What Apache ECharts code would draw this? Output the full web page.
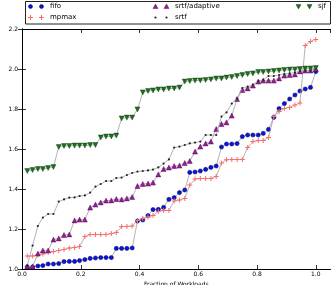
<!DOCTYPE html>
<html><head><meta charset="utf-8">
<script src="https://cdn.jsdelivr.net/npm/echarts@6/dist/echarts.min.js"></script>
<style>html,body{margin:0;padding:0;background:#fff}#c{width:332px;height:285px}</style>
</head><body><div id="c"></div>
<script>
// Fraction of workloads (x positions, i/56)
var fractions = [0.018,0.036,0.054,0.071,0.089,0.107,0.125,0.143,0.161,0.179,0.196,0.214,0.232,0.25,0.268,0.286,0.304,0.321,0.339,0.357,0.375,0.393,0.411,0.429,0.446,0.464,0.482,0.5,0.518,0.536,0.554,0.571,0.589,0.607,0.625,0.643,0.661,0.679,0.696,0.714,0.732,0.75,0.768,0.786,0.804,0.821,0.839,0.857,0.875,0.893,0.911,0.929,0.946,0.964,0.982,1.0];
var fifo = [1.01,1.01,1.015,1.017,1.025,1.025,1.027,1.037,1.038,1.038,1.042,1.047,1.053,1.055,1.057,1.057,1.057,1.103,1.103,1.103,
  1.105,1.24,1.245,1.267,1.297,1.298,1.308,1.348,1.357,1.382,1.395,1.483,1.485,1.49,1.498,1.508,1.515,1.61,1.625,
  1.625,1.627,1.662,1.67,1.67,1.67,1.678,1.698,1.758,1.802,1.827,1.85,1.87,1.89,1.9,1.908,1.987];
var mpmax = [1.065,1.065,1.07,1.075,1.082,1.087,1.093,1.098,1.105,1.107,1.112,1.162,1.172,1.172,1.172,1.172,1.177,1.182,1.212,1.213,
  1.215,1.242,1.253,1.26,1.268,1.288,1.293,1.293,1.34,1.345,1.353,1.42,1.45,1.452,1.452,1.452,1.463,1.53,1.546,
  1.547,1.548,1.548,1.608,1.637,1.642,1.643,1.657,1.762,1.787,1.803,1.808,1.82,1.83,2.117,2.137,2.148];
var srtfAdaptive = [1.013,1.013,1.077,1.093,1.093,1.147,1.153,1.17,1.173,1.243,1.247,1.247,1.307,1.322,1.333,1.342,1.343,1.35,1.348,1.353,
  1.36,1.415,1.425,1.427,1.432,1.473,1.5,1.507,1.515,1.517,1.53,1.54,1.587,1.612,1.628,1.637,1.70,1.725,1.733,
  1.767,1.85,1.895,1.903,1.917,1.937,1.942,1.942,1.942,1.953,1.967,1.97,1.973,1.988,1.992,1.992,2.0];
var srtf = [1.018,1.117,1.215,1.257,1.275,1.275,1.337,1.348,1.357,1.358,1.365,1.368,1.382,1.412,1.425,1.44,1.44,1.455,1.457,1.47,
  1.48,1.487,1.49,1.493,1.497,1.508,1.527,1.548,1.607,1.612,1.62,1.628,1.632,1.637,1.67,1.67,1.67,1.762,1.783,
  1.827,1.853,1.905,1.912,1.92,1.94,1.945,1.965,1.965,1.97,1.975,1.978,1.982,1.99,1.993,1.993,2.008];
var sjf = [1.49,1.495,1.50,1.50,1.505,1.51,1.61,1.615,1.615,1.617,1.617,1.617,1.62,1.62,1.658,1.662,1.663,1.667,1.753,1.757,
  1.757,1.798,1.883,1.89,1.893,1.898,1.898,1.902,1.903,1.907,1.937,1.94,1.942,1.943,1.945,1.948,1.952,1.953,1.957,
  1.96,1.965,1.97,1.975,1.978,1.985,1.985,1.987,1.99,1.992,1.995,1.997,1.998,2.0,2.002,2.003,2.005];
var seriesNames = ['fifo','mpmax','srtf/adaptive','srtf','sjf'];
var xTicks = [0.0,0.2,0.4,0.6,0.8,1.0];
var yTicks = [1.0,1.2,1.4,1.6,1.8,2.0,2.2];

var FONT = 'DejaVu Sans';
var PLUS = 'path://M4,0L6,0L6,4L10,4L10,6L6,6L6,10L4,10L4,6L0,6L0,4L4,4Z';
var styles = [
  {symbol:'circle', size:4.2, color:'#0a14e0', border:'#000050', bw:0.5, rot:0},
  {symbol:PLUS, size:5, color:'#ff6b6b', border:'#ff6b6b', bw:0, rot:0},
  {symbol:'triangle', size:5, color:'#9a1a9a', border:'#3a003a', bw:0.4, rot:0},
  {symbol:'circle', size:2.2, color:'#222222', border:'#222222', bw:0, rot:0},
  {symbol:'triangle', size:5, color:'#1d6e1d', border:'#083808', bw:0.4, rot:180}
];
var values = [fifo, mpmax, srtfAdaptive, srtf, sjf];

function pairs(v){ return fractions.map(function(x,i){return [x, v[i]];}); }

var series = values.map(function(v,k){
  var s = styles[k];
  return {
    name: seriesNames[k], type:'line', data: pairs(v),
    symbol: s.symbol, symbolSize: s.size, symbolRotate: s.rot, showAllSymbol: true,
    lineStyle:{color:'#a0a0a0', width:0.8},
    itemStyle:{color:s.color, borderColor:s.border, borderWidth:s.bw, opacity:1},
    emphasis:{disabled:true}, animation:false, z: 2+k
  };
});

function fmt(v){
  for (var i=0;i<xTicks.length;i++) if (Math.abs(v-xTicks[i])<1e-6) return xTicks[i].toFixed(1);
  return '';
}
function fmtY(v){
  for (var i=0;i<yTicks.length;i++) if (Math.abs(v-yTicks[i])<1e-6) return yTicks[i].toFixed(1);
  return '';
}
var tickStyle = {inside:true, length:4, lineStyle:{color:'#000', width:0.8}};
var lineSt = {show:true, lineStyle:{color:'#000', width:1}};

// legend built as graphic elements
var legendCols = [[0,1],[2,3],[4]];
var colX = [30.5, 155.5, 298.5];
var rowY = [6.5, 17.5];
var g = [{type:'rect', shape:{x:25.5,y:1.5,width:305,height:22.5}, style:{fill:'#fff', stroke:'#222', lineWidth:1}, z:100}];
function markerEl(k, cx, cy){
  var s = styles[k];
  if (k===0) return {type:'circle', shape:{cx:cx,cy:cy,r:2}, style:{fill:s.color, stroke:s.border, lineWidth:0.5}, z:101};
  if (k===1) return {type:'group', z:101, children:[
      {type:'line', shape:{x1:cx-2.5,y1:cy,x2:cx+2.5,y2:cy}, style:{stroke:s.color, lineWidth:1}, z:101},
      {type:'line', shape:{x1:cx,y1:cy-2.5,x2:cx,y2:cy+2.5}, style:{stroke:s.color, lineWidth:1}, z:101}]};
  if (k===2) return {type:'polygon', shape:{points:[[cx,cy-2.5],[cx+2.5,cy+2],[cx-2.5,cy+2]]}, style:{fill:s.color, stroke:s.border, lineWidth:0.4}, z:101};
  if (k===3) return {type:'circle', shape:{cx:cx,cy:cy,r:1.1}, style:{fill:s.color}, z:101};
  return {type:'polygon', shape:{points:[[cx,cy+2.5],[cx+2.5,cy-2],[cx-2.5,cy-2]]}, style:{fill:s.color, stroke:s.border, lineWidth:0.4}, z:101};
}
legendCols.forEach(function(col,c){
  col.forEach(function(k,r){
    var x = colX[c], y = rowY[r];
    g.push(markerEl(k, x, y));
    g.push(markerEl(k, x+11, y));
    g.push({type:'text', x:x+19.5, y:y, style:{text:seriesNames[k], fill:'#000', font:'7px "'+FONT+'"', verticalAlign:'middle', align:'left'}, z:101});
  });
});

var chart = echarts.init(document.getElementById('c'), null, {renderer:'canvas'});
chart.setOption({
  animation:false,
  backgroundColor:'#fff',
  grid:{left:22, right:1.5, top:29, bottom:16, containLabel:false, outerBoundsMode:'none'},
  xAxis:[
    {type:'value', min:0, max:1.05, interval:0.2, position:'bottom',
     axisLine:lineSt, axisTick:tickStyle, splitLine:{show:false},
     axisLabel:{formatter:fmt, fontSize:6, color:'#000', fontFamily:FONT, margin:2, showMaxLabel:false},
     name:'Fraction of Workloads', nameLocation:'middle', nameGap:7.5,
     nameTextStyle:{fontSize:6, color:'#000', fontFamily:FONT}},
    {type:'value', min:0, max:1.05, interval:0.2, position:'top',
     axisLine:lineSt, axisTick:tickStyle, splitLine:{show:false}, axisLabel:{show:false}}
  ],
  yAxis:[
    {type:'value', min:1.0, max:2.2, interval:0.2, position:'left',
     axisLine:lineSt, axisTick:tickStyle, splitLine:{show:false},
     axisLabel:{formatter:fmtY, fontSize:6, color:'#000', fontFamily:FONT, margin:4},
     name:'System Throughput', nameLocation:'middle', nameGap:15, nameRotate:90,
     nameTextStyle:{fontSize:6, color:'#000', fontFamily:FONT}},
    {type:'value', min:1.0, max:2.2, interval:0.2, position:'right',
     axisLine:lineSt, axisTick:tickStyle, splitLine:{show:false}, axisLabel:{show:false}}
  ],
  series: series,
  graphic: g
});
</script>
</body></html>
